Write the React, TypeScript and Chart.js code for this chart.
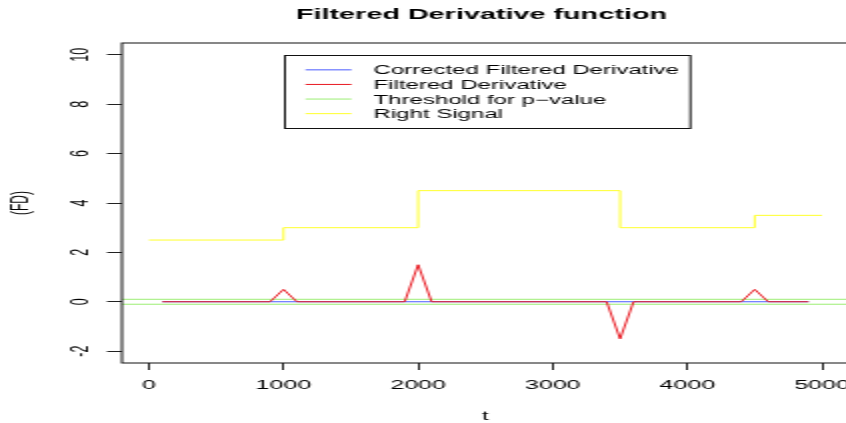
import React, { useEffect, useRef } from 'react';
import { Chart, registerables } from 'chart.js';

Chart.register(...registerables);

// ---- data ----
const TITLE = 'Filtered Derivative function';
const X_LABEL = 't';
const Y_LABEL = '(FD)';
const X_LIMITS = [-200, 5200];
const Y_LIMITS = [-2.48, 10.48];
const X_TICKS = [0, 1000, 2000, 3000, 4000, 5000];
const Y_TICKS = [-2, 0, 2, 4, 6, 8, 10];

const derivT = [100, 900, 1000, 1100, 1900, 2000, 2100, 3400, 3500, 3600, 4400, 4500, 4600, 4900];
const filteredDerivative = [0, 0, 0.5, 0, 0, 1.5, 0, 0, -1.5, 0, 0, 0.5, 0, 0];
const correctedT = [100, 4900];
const correctedDerivative = [0, 0];
const signalT = [0, 1000, 2000, 3500, 4500, 5000];
const rightSignal = [2.5, 3, 4.5, 3, 3.5, 3.5];
const THRESHOLD = 0.1;
const LEGEND_ANCHOR = [1000, 10];

const LEGEND_LABELS = [
  'Corrected Filtered Derivative',
  'Filtered Derivative',
  'Threshold for p\u2212value',
  'Right Signal',
];
const COLORS = {
  corrected: '#4a5aff',
  filtered: '#e81820',
  threshold: '#9cee74',
  signal: '#ffff2a',
};
const LEGEND_COLORS = [COLORS.corrected, COLORS.filtered, COLORS.threshold, COLORS.signal];

const FONT = '"Liberation Sans", Arial, Helvetica, sans-serif';
const STRETCH = 2; // horizontal stretch of the picture
const CANVAS_W = 430;
const CANVAS_H = 423;

const pts = (xs: number[], ys: number[]) => xs.map((x, i) => ({ x, y: ys[i] }));

const rPlugin = {
  id: 'rStyle',
  afterDraw(chart: any) {
    const ctx = chart.ctx as CanvasRenderingContext2D;
    const area = chart.chartArea;
    const xs = chart.scales.x;
    const ys = chart.scales.y;
    ctx.save();
    // plot box
    ctx.strokeStyle = '#111';
    ctx.lineWidth = 1;
    ctx.strokeRect(area.left, area.top, area.right - area.left, area.bottom - area.top);

    // y tick labels (rotated, as in R)
    ctx.fillStyle = '#000';
    ctx.font = `12.5px ${FONT}`;
    ys.ticks.forEach((t: any) => {
      const py = ys.getPixelForValue(t.value);
      ctx.save();
      ctx.translate(area.left - 17.3, py);
      ctx.rotate(-Math.PI / 2);
      ctx.textAlign = 'center';
      ctx.textBaseline = 'alphabetic';
      ctx.fillText(String(t.label), 0, 0);
      ctx.restore();
    });

    // y axis title
    ctx.font = `12px ${FONT}`;
    ctx.save();
    ctx.translate(14, (area.top + area.bottom) / 2);
    ctx.rotate(-Math.PI / 2);
    ctx.textAlign = 'center';
    ctx.textBaseline = 'alphabetic';
    ctx.fillText(Y_LABEL, 0, 0);
    ctx.restore();

    // x axis title
    ctx.textAlign = 'center';
    ctx.textBaseline = 'alphabetic';
    ctx.fillText(X_LABEL, (area.left + area.right) / 2, 420);

    // main title
    ctx.font = `bold 14.4px ${FONT}`;
    ctx.fillText(TITLE, (area.left + area.right) / 2 - 2, 19.3);

    // legend
    ctx.font = `12px ${FONT}`;
    const lx = xs.getPixelForValue(LEGEND_ANCHOR[0]);
    const ly = ys.getPixelForValue(LEGEND_ANCHOR[1]);
    const textX = lx + 45;
    const maxW = Math.max(...LEGEND_LABELS.map((l) => ctx.measureText(l).width));
    const boxW = textX + maxW + 5 - lx;
    const boxH = 73;
    ctx.strokeStyle = '#111';
    ctx.lineWidth = 1;
    ctx.strokeRect(Math.round(lx) + 0.5, Math.round(ly) + 0.5, boxW, boxH);
    LEGEND_LABELS.forEach((label, i) => {
      const rowY = ly + 15 + i * 14.6;
      ctx.strokeStyle = LEGEND_COLORS[i];
      ctx.beginPath();
      ctx.moveTo(lx + 11, rowY);
      ctx.lineTo(lx + 34, rowY);
      ctx.stroke();
      ctx.fillStyle = '#000';
      ctx.textAlign = 'left';
      ctx.fillText(label, textX, rowY + 4.6);
    });
    ctx.restore();
  },
};

export default function App() {
  const ref = useRef<HTMLCanvasElement | null>(null);
  useEffect(() => {
    document.body.style.margin = '0';
    Chart.defaults.font.family = FONT;
    const canvas = ref.current!;
    const lineDs = (label: string, data: any[], color: string, order: number, extra: any = {}) => ({
      label,
      data,
      borderColor: color,
      backgroundColor: color,
      borderWidth: 1,
      pointRadius: 0,
      tension: 0,
      fill: false,
      order,
      ...extra,
    });
    const chart = new Chart(canvas, {
      type: 'line',
      data: {
        datasets: [
          lineDs(LEGEND_LABELS[0], pts(correctedT, correctedDerivative), COLORS.corrected, 1),
          lineDs(LEGEND_LABELS[1], pts(derivT, filteredDerivative), COLORS.filtered, 0),
          lineDs(LEGEND_LABELS[2], pts(X_LIMITS, [THRESHOLD, THRESHOLD]), COLORS.threshold, 2),
          lineDs(LEGEND_LABELS[2] + ' (lower)', pts(X_LIMITS, [-THRESHOLD, -THRESHOLD]), COLORS.threshold, 2),
          lineDs(LEGEND_LABELS[3], pts(signalT, rightSignal), COLORS.signal, 3, { stepped: 'before' }),
        ],
      },
      options: {
        responsive: false,
        animation: false,
        devicePixelRatio: 1,
        layout: { autoPadding: false, padding: { left: 0, top: 43, right: 5.5, bottom: 0 } },
        plugins: {
          legend: { display: false },
          title: { display: false },
          tooltip: { enabled: false },
        },
        scales: {
          x: {
            type: 'linear',
            min: X_LIMITS[0],
            max: X_LIMITS[1],
            afterBuildTicks: (s: any) => {
              s.ticks = X_TICKS.map((v) => ({ value: v }));
            },
            afterFit: (s: any) => {
              s.height = 60;
              s.paddingLeft = 0;
              s.paddingRight = 0;
            },
            grid: { display: true, drawOnChartArea: false, drawTicks: true, tickLength: 7, color: '#222', lineWidth: 1 },
            border: { display: false },
            ticks: {
              color: '#000',
              font: { size: 12.5, family: FONT },
              padding: 8,
              maxRotation: 0,
              minRotation: 0,
              autoSkip: false,
              callback: (v: any) => String(v),
            },
          },
          y: {
            type: 'linear',
            min: Y_LIMITS[0],
            max: Y_LIMITS[1],
            afterBuildTicks: (s: any) => {
              s.ticks = Y_TICKS.map((v) => ({ value: v }));
            },
            afterFit: (s: any) => {
              s.width = 61;
            },
            grid: { display: true, drawOnChartArea: false, drawTicks: true, tickLength: 7.5, color: '#222', lineWidth: 1 },
            border: { display: false },
            ticks: {
              display: false,
              callback: (v: any) => String(v),
            },
          },
        },
      },
      plugins: [rPlugin],
    } as any);
    return () => chart.destroy();
  }, []);
  return (
    <div style={{ width: 846, height: 423, overflow: 'hidden', position: 'relative', background: '#fff' }}>
      <canvas
        ref={ref}
        width={CANVAS_W}
        height={CANVAS_H}
        style={{ width: CANVAS_W * STRETCH, height: CANVAS_H, display: 'block' }}
      />
    </div>
  );
}
